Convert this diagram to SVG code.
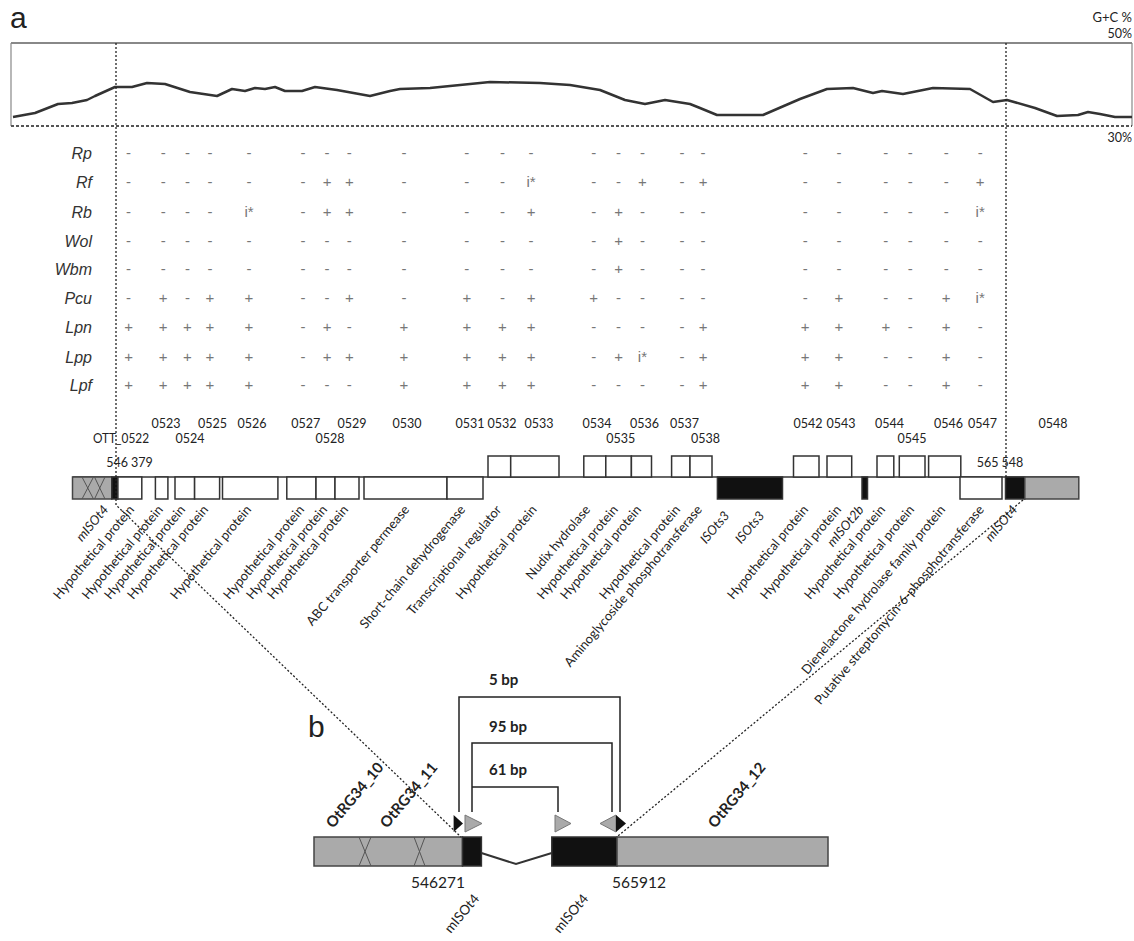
<svg xmlns="http://www.w3.org/2000/svg" width="1134" height="941" viewBox="0 0 1134 941">
<style>
.t{font-family:Lato,'Open Sans',sans-serif;fill:#222}
.num{font-size:12.5px;text-anchor:middle}
.gl{font-size:13px;text-anchor:end}
.it{font-style:italic}
.pl{font-family:'Liberation Sans',Arial,sans-serif;font-size:30px;fill:#222}
.row{font-family:'Liberation Sans',Arial,sans-serif;font-style:italic;font-size:16px;fill:#333;text-anchor:end}
.sym{font-family:'Liberation Sans',Arial,sans-serif;font-size:15px;fill:#777;text-anchor:middle}
.box{fill:#fff;stroke:#333;stroke-width:1.5}
.blk{fill:#111;stroke:#333;stroke-width:1.5}
.gry{fill:#aaa;stroke:#444;stroke-width:1.5}
.x{stroke:#555;stroke-width:1;fill:none}
.dot{fill:none;stroke:#222;stroke-width:1.3;stroke-dasharray:2 2}
.br{fill:none;stroke:#222;stroke-width:1.5}
.bl{font-family:Lato,'Open Sans',sans-serif;font-weight:bold;fill:#222}
</style>

<g id="panel-labels">
<text class="pl" x="10" y="28">a</text>
<text class="pl" x="308" y="737">b</text>
</g>

<g id="gc-plot">
<line x1="11" y1="43" x2="1132" y2="43" stroke="#888" stroke-width="2"/>
<line x1="11" y1="43" x2="11" y2="126" stroke="#888" stroke-width="1.2"/>
<line x1="1132" y1="43" x2="1132" y2="126" stroke="#888" stroke-width="1.2"/>
<line x1="11" y1="126" x2="1132" y2="126" stroke="#555" stroke-width="2" stroke-dasharray="3 2"/>
<polyline fill="none" stroke="#333" stroke-width="2.5" stroke-linejoin="round" points="13,117 35,113 58,104 72,103 87,100 95,96 115,87 132,87 147,83 165,84 190,92 217,96 232,89 245,91 255,88 265,89 275,87 285,91 302,91 315,87 337,90 370,96 390,91 400,89 430,88 460,85 490,82 540,83 570,85 600,90 625,100 645,104 665,100 690,104 700,108 717,115 763,115 800,99 827,89 853,88 873,93 882,91 903,94 933,88 970,89 993,102 1007,100 1035,108 1057,116 1078,115 1088,112 1100,114 1115,117 1132,117"/>
<text class="t" x="1132" y="22" font-size="13" text-anchor="end">G+C %</text>
<text class="t" x="1132" y="38" font-size="12.5" text-anchor="end">50%</text>
<text class="t" x="1132" y="142" font-size="12.5" text-anchor="end">30%</text>
</g>

<g id="table">
<text class="row" x="92" y="159">Rp</text>
<text class="row" x="92" y="188">Rf</text>
<text class="row" x="92" y="218">Rb</text>
<text class="row" x="92" y="247">Wol</text>
<text class="row" x="92" y="275">Wbm</text>
<text class="row" x="92" y="304">Pcu</text>
<text class="row" x="92" y="333">Lpn</text>
<text class="row" x="92" y="363">Lpp</text>
<text class="row" x="92" y="391">Lpf</text>
<g class="sym">
<text y="158"><tspan x="128.6">-</tspan><tspan x="163.2">-</tspan><tspan x="187.5">-</tspan><tspan x="210">-</tspan><tspan x="249">-</tspan><tspan x="302.9">-</tspan><tspan x="327.1">-</tspan><tspan x="349.3">-</tspan><tspan x="403.9">-</tspan><tspan x="466.8">-</tspan><tspan x="502.5">-</tspan><tspan x="531.1">-</tspan><tspan x="593.7">-</tspan><tspan x="618.6">-</tspan><tspan x="642.4">-</tspan><tspan x="681.9">-</tspan><tspan x="703.1">-</tspan><tspan x="805.2">-</tspan><tspan x="838.9">-</tspan><tspan x="885.8">-</tspan><tspan x="910.3">-</tspan><tspan x="946.2">-</tspan><tspan x="980.2">-</tspan></text>
<text y="187"><tspan x="128.6">-</tspan><tspan x="163.2">-</tspan><tspan x="187.5">-</tspan><tspan x="210">-</tspan><tspan x="249">-</tspan><tspan x="302.9">-</tspan><tspan x="327.1">+</tspan><tspan x="349.3">+</tspan><tspan x="403.9">-</tspan><tspan x="466.8">-</tspan><tspan x="502.5">-</tspan><tspan x="531.1">i*</tspan><tspan x="593.7">-</tspan><tspan x="618.6">-</tspan><tspan x="642.4">+</tspan><tspan x="681.9">-</tspan><tspan x="703.1">+</tspan><tspan x="805.2">-</tspan><tspan x="838.9">-</tspan><tspan x="885.8">-</tspan><tspan x="910.3">-</tspan><tspan x="946.2">-</tspan><tspan x="980.2">+</tspan></text>
<text y="217"><tspan x="128.6">-</tspan><tspan x="163.2">-</tspan><tspan x="187.5">-</tspan><tspan x="210">-</tspan><tspan x="249">i*</tspan><tspan x="302.9">-</tspan><tspan x="327.1">+</tspan><tspan x="349.3">+</tspan><tspan x="403.9">-</tspan><tspan x="466.8">-</tspan><tspan x="502.5">-</tspan><tspan x="531.1">+</tspan><tspan x="593.7">-</tspan><tspan x="618.6">+</tspan><tspan x="642.4">-</tspan><tspan x="681.9">-</tspan><tspan x="703.1">-</tspan><tspan x="805.2">-</tspan><tspan x="838.9">-</tspan><tspan x="885.8">-</tspan><tspan x="910.3">-</tspan><tspan x="946.2">-</tspan><tspan x="980.2">i*</tspan></text>
<text y="246"><tspan x="128.6">-</tspan><tspan x="163.2">-</tspan><tspan x="187.5">-</tspan><tspan x="210">-</tspan><tspan x="249">-</tspan><tspan x="302.9">-</tspan><tspan x="327.1">-</tspan><tspan x="349.3">-</tspan><tspan x="403.9">-</tspan><tspan x="466.8">-</tspan><tspan x="502.5">-</tspan><tspan x="531.1">-</tspan><tspan x="593.7">-</tspan><tspan x="618.6">+</tspan><tspan x="642.4">-</tspan><tspan x="681.9">-</tspan><tspan x="703.1">-</tspan><tspan x="805.2">-</tspan><tspan x="838.9">-</tspan><tspan x="885.8">-</tspan><tspan x="910.3">-</tspan><tspan x="946.2">-</tspan><tspan x="980.2">-</tspan></text>
<text y="274"><tspan x="128.6">-</tspan><tspan x="163.2">-</tspan><tspan x="187.5">-</tspan><tspan x="210">-</tspan><tspan x="249">-</tspan><tspan x="302.9">-</tspan><tspan x="327.1">-</tspan><tspan x="349.3">-</tspan><tspan x="403.9">-</tspan><tspan x="466.8">-</tspan><tspan x="502.5">-</tspan><tspan x="531.1">-</tspan><tspan x="593.7">-</tspan><tspan x="618.6">+</tspan><tspan x="642.4">-</tspan><tspan x="681.9">-</tspan><tspan x="703.1">-</tspan><tspan x="805.2">-</tspan><tspan x="838.9">-</tspan><tspan x="885.8">-</tspan><tspan x="910.3">-</tspan><tspan x="946.2">-</tspan><tspan x="980.2">-</tspan></text>
<text y="303"><tspan x="128.6">-</tspan><tspan x="163.2">+</tspan><tspan x="187.5">-</tspan><tspan x="210">+</tspan><tspan x="249">+</tspan><tspan x="302.9">-</tspan><tspan x="327.1">-</tspan><tspan x="349.3">+</tspan><tspan x="403.9">-</tspan><tspan x="466.8">+</tspan><tspan x="502.5">-</tspan><tspan x="531.1">+</tspan><tspan x="593.7">+</tspan><tspan x="618.6">-</tspan><tspan x="642.4">-</tspan><tspan x="681.9">-</tspan><tspan x="703.1">-</tspan><tspan x="805.2">-</tspan><tspan x="838.9">+</tspan><tspan x="885.8">-</tspan><tspan x="910.3">-</tspan><tspan x="946.2">+</tspan><tspan x="980.2">i*</tspan></text>
<text y="332"><tspan x="128.6">+</tspan><tspan x="163.2">+</tspan><tspan x="187.5">+</tspan><tspan x="210">+</tspan><tspan x="249">+</tspan><tspan x="302.9">-</tspan><tspan x="327.1">+</tspan><tspan x="349.3">-</tspan><tspan x="403.9">+</tspan><tspan x="466.8">+</tspan><tspan x="502.5">+</tspan><tspan x="531.1">+</tspan><tspan x="593.7">-</tspan><tspan x="618.6">-</tspan><tspan x="642.4">-</tspan><tspan x="681.9">-</tspan><tspan x="703.1">+</tspan><tspan x="805.2">+</tspan><tspan x="838.9">+</tspan><tspan x="885.8">+</tspan><tspan x="910.3">-</tspan><tspan x="946.2">+</tspan><tspan x="980.2">-</tspan></text>
<text y="362"><tspan x="128.6">+</tspan><tspan x="163.2">+</tspan><tspan x="187.5">+</tspan><tspan x="210">+</tspan><tspan x="249">+</tspan><tspan x="302.9">-</tspan><tspan x="327.1">+</tspan><tspan x="349.3">+</tspan><tspan x="403.9">+</tspan><tspan x="466.8">+</tspan><tspan x="502.5">+</tspan><tspan x="531.1">+</tspan><tspan x="593.7">-</tspan><tspan x="618.6">+</tspan><tspan x="642.4">i*</tspan><tspan x="681.9">-</tspan><tspan x="703.1">+</tspan><tspan x="805.2">+</tspan><tspan x="838.9">+</tspan><tspan x="885.8">-</tspan><tspan x="910.3">-</tspan><tspan x="946.2">+</tspan><tspan x="980.2">-</tspan></text>
<text y="390"><tspan x="128.6">+</tspan><tspan x="163.2">+</tspan><tspan x="187.5">+</tspan><tspan x="210">+</tspan><tspan x="249">+</tspan><tspan x="302.9">-</tspan><tspan x="327.1">-</tspan><tspan x="349.3">-</tspan><tspan x="403.9">+</tspan><tspan x="466.8">+</tspan><tspan x="502.5">+</tspan><tspan x="531.1">+</tspan><tspan x="593.7">-</tspan><tspan x="618.6">-</tspan><tspan x="642.4">-</tspan><tspan x="681.9">-</tspan><tspan x="703.1">+</tspan><tspan x="805.2">+</tspan><tspan x="838.9">+</tspan><tspan x="885.8">-</tspan><tspan x="910.3">-</tspan><tspan x="946.2">+</tspan><tspan x="980.2">-</tspan></text>
</g>
</g>

<g id="gene-numbers" class="t num">
<text x="166" y="428">0523</text>
<text x="212.5" y="428">0525</text>
<text x="252" y="428">0526</text>
<text x="305.7" y="428">0527</text>
<text x="352" y="428">0529</text>
<text x="407" y="428">0530</text>
<text x="470" y="428">0531</text>
<text x="502" y="428">0532</text>
<text x="539" y="428">0533</text>
<text x="597" y="428">0534</text>
<text x="644.6" y="428">0536</text>
<text x="684.5" y="428">0537</text>
<text x="808" y="428">0542</text>
<text x="841" y="428">0543</text>
<text x="889.5" y="428">0544</text>
<text x="948.5" y="428">0546</text>
<text x="982.5" y="428">0547</text>
<text x="1053" y="428">0548</text>
<text x="190" y="443">0524</text>
<text x="330" y="443">0528</text>
<text x="620.7" y="443">0535</text>
<text x="705.6" y="443">0538</text>
<text x="912" y="443">0545</text>
<text x="93" y="443" text-anchor="start" textLength="56" lengthAdjust="spacingAndGlyphs">OTT_0522</text>
<text x="129.5" y="467">546 379</text>
<text x="1000" y="467">565 548</text>
</g>

<g id="gene-track">
<line x1="72.5" y1="477" x2="1079" y2="477" stroke="#333" stroke-width="1.5"/>
<rect class="gry" x="72.5" y="477" width="39.3" height="22"/>
<path class="x" d="M82,477 L93.5,499 M93.5,477 L82,499 M94.5,477 L105,499 M105,477 L94.5,499"/>
<rect class="blk" x="111.8" y="477" width="6.1" height="22"/>
<rect class="box" x="117.9" y="477" width="23.9" height="22"/>
<rect class="box" x="155.4" y="477" width="12.5" height="22"/>
<rect class="box" x="175" y="477" width="19.6" height="22"/>
<rect class="box" x="194.6" y="477" width="25" height="22"/>
<rect class="box" x="222.5" y="477" width="55.4" height="22"/>
<rect class="box" x="286.8" y="477" width="29.2" height="22"/>
<rect class="box" x="316" y="477" width="19" height="22"/>
<rect class="box" x="335" y="477" width="24" height="22"/>
<rect class="box" x="364" y="477" width="83" height="22"/>
<rect class="box" x="447" y="477" width="36" height="22"/>
<rect class="box" x="488" y="456" width="22.7" height="21"/>
<rect class="box" x="510.7" y="456" width="48.3" height="21"/>
<rect class="box" x="583.8" y="456" width="22" height="21"/>
<rect class="box" x="605.8" y="456" width="25.6" height="21"/>
<rect class="box" x="631.4" y="456" width="20.1" height="21"/>
<rect class="box" x="671.6" y="456" width="18.4" height="21"/>
<rect class="box" x="690" y="456" width="22" height="21"/>
<rect class="blk" x="717.4" y="477" width="65.1" height="22"/>
<rect class="box" x="793.5" y="456" width="25.5" height="21"/>
<rect class="box" x="827" y="456" width="24.7" height="21"/>
<rect class="blk" x="862" y="477" width="5.5" height="22"/>
<rect class="box" x="877" y="456" width="16.8" height="21"/>
<rect class="box" x="899.3" y="456" width="25.7" height="21"/>
<rect class="box" x="928.6" y="456" width="32.2" height="21"/>
<rect class="box" x="960" y="477" width="42" height="22"/>
<rect class="blk" x="1005.5" y="477" width="19.3" height="22"/>
<rect class="gry" x="1024.8" y="477" width="54" height="22"/>
</g>

<g id="gene-labels" class="t gl">
<text class="it" transform="translate(109,510) rotate(-50)">mISOt4</text>
<text transform="translate(135,510) rotate(-50)">Hypothetical protein</text>
<text transform="translate(163.6,510) rotate(-50)">Hypothetical protein</text>
<text transform="translate(186,510) rotate(-50)">Hypothetical protein</text>
<text transform="translate(209,510) rotate(-50)">Hypothetical protein</text>
<text transform="translate(252,510) rotate(-50)">Hypothetical protein</text>
<text transform="translate(305,510) rotate(-50)">Hypothetical protein</text>
<text transform="translate(328,510) rotate(-50)">Hypothetical protein</text>
<text transform="translate(349,510) rotate(-50)">Hypothetical protein</text>
<text transform="translate(410,510) rotate(-50)">ABC transporter permease</text>
<text transform="translate(466,510) rotate(-50)">Short-chain dehydrogenase</text>
<text transform="translate(502,510) rotate(-50)">Transcriptional regulator</text>
<text transform="translate(537.5,510) rotate(-50)">Hypothetical protein</text>
<text transform="translate(591,510) rotate(-50)">Nudix hydrolase</text>
<text transform="translate(618.6,510) rotate(-50)">Hypothetical protein</text>
<text transform="translate(642,510) rotate(-50)">Hypothetical protein</text>
<text transform="translate(680.8,510) rotate(-50)">Hypothetical protein</text>
<text transform="translate(702.7,510) rotate(-50)">Aminoglycoside phosphotransferase</text>
<text class="it" transform="translate(730,516) rotate(-50)">ISOts3</text>
<text class="it" transform="translate(765,516) rotate(-50)">ISOts3</text>
<text transform="translate(809,510) rotate(-50)">Hypothetical protein</text>
<text transform="translate(841.8,510) rotate(-50)">Hypothetical protein</text>
<text class="it" transform="translate(864.5,510) rotate(-50)">mISOt2b</text>
<text transform="translate(885.8,510) rotate(-50)">Hypothetical protein</text>
<text transform="translate(915,510) rotate(-50)">Hypothetical protein</text>
<text transform="translate(946,510) rotate(-50)">Dienelactone hydrolase family protein</text>
<text transform="translate(984.6,510) rotate(-50)">Putative streptomycin-6-phosphotransferase</text>
<text class="it" transform="translate(1018,510) rotate(-50)">mISOt4</text>
</g>

<g id="panel-b">
<rect class="gry" x="314" y="837" width="148.5" height="29"/>
<path class="x" d="M359,837 L371,866 M371,837 L359,866 M414,837 L425,866 M425,837 L414,866"/>
<rect class="blk" x="462.5" y="837" width="18.9" height="29"/>
<polyline points="481.4,853 516,864 551.8,853" fill="none" stroke="#333" stroke-width="2"/>
<rect class="blk" x="551.8" y="837" width="65.2" height="29"/>
<rect class="gry" x="617" y="837" width="211" height="29"/>
<polygon points="453.6,815 463,823.5 453.6,832" fill="#111"/>
<polygon points="465,815 482,823.5 465,832" fill="#aaa" stroke="#777"/>
<polygon points="555,815 571,823.5 555,832" fill="#aaa" stroke="#777"/>
<polygon points="616,815 600,823.5 616,832" fill="#aaa" stroke="#777"/>
<polygon points="616,815 626,823.5 616,832" fill="#111"/>
<text class="bl" font-size="15" transform="translate(333,829) rotate(-50)">OtRG34_10</text>
<text class="bl" font-size="15" transform="translate(387,829) rotate(-50)">OtRG34_11</text>
<text class="bl" font-size="15" transform="translate(715,829) rotate(-50)">OtRG34_12</text>
<text class="t" font-size="15.5" x="438" y="888" text-anchor="middle">546271</text>
<text class="t" font-size="15.5" x="639" y="888" text-anchor="middle">565912</text>
<text class="t" font-size="13.5" text-anchor="end" transform="translate(480,899) rotate(-50)">mISOt4</text>
<text class="t" font-size="13.5" text-anchor="end" transform="translate(589,899) rotate(-50)">mISOt4</text>
<text class="bl" font-size="15" x="489" y="685">5 bp</text>
<text class="bl" font-size="15" x="489" y="732">95 bp</text>
<text class="bl" font-size="15" x="489" y="775">61 bp</text>
</g>

<g id="connectors">
<path class="dot" d="M116,43 V505 L461,837"/>
<path class="dot" d="M1006,43 V477"/>
<path class="dot" d="M1023,500 L618,836"/>
<path class="br" d="M459,812 V697 H620 V812"/>
<path class="br" d="M472,812 V743 H612 V812"/>
<path class="br" d="M472,787 H558 V812"/>
</g>
</svg>
